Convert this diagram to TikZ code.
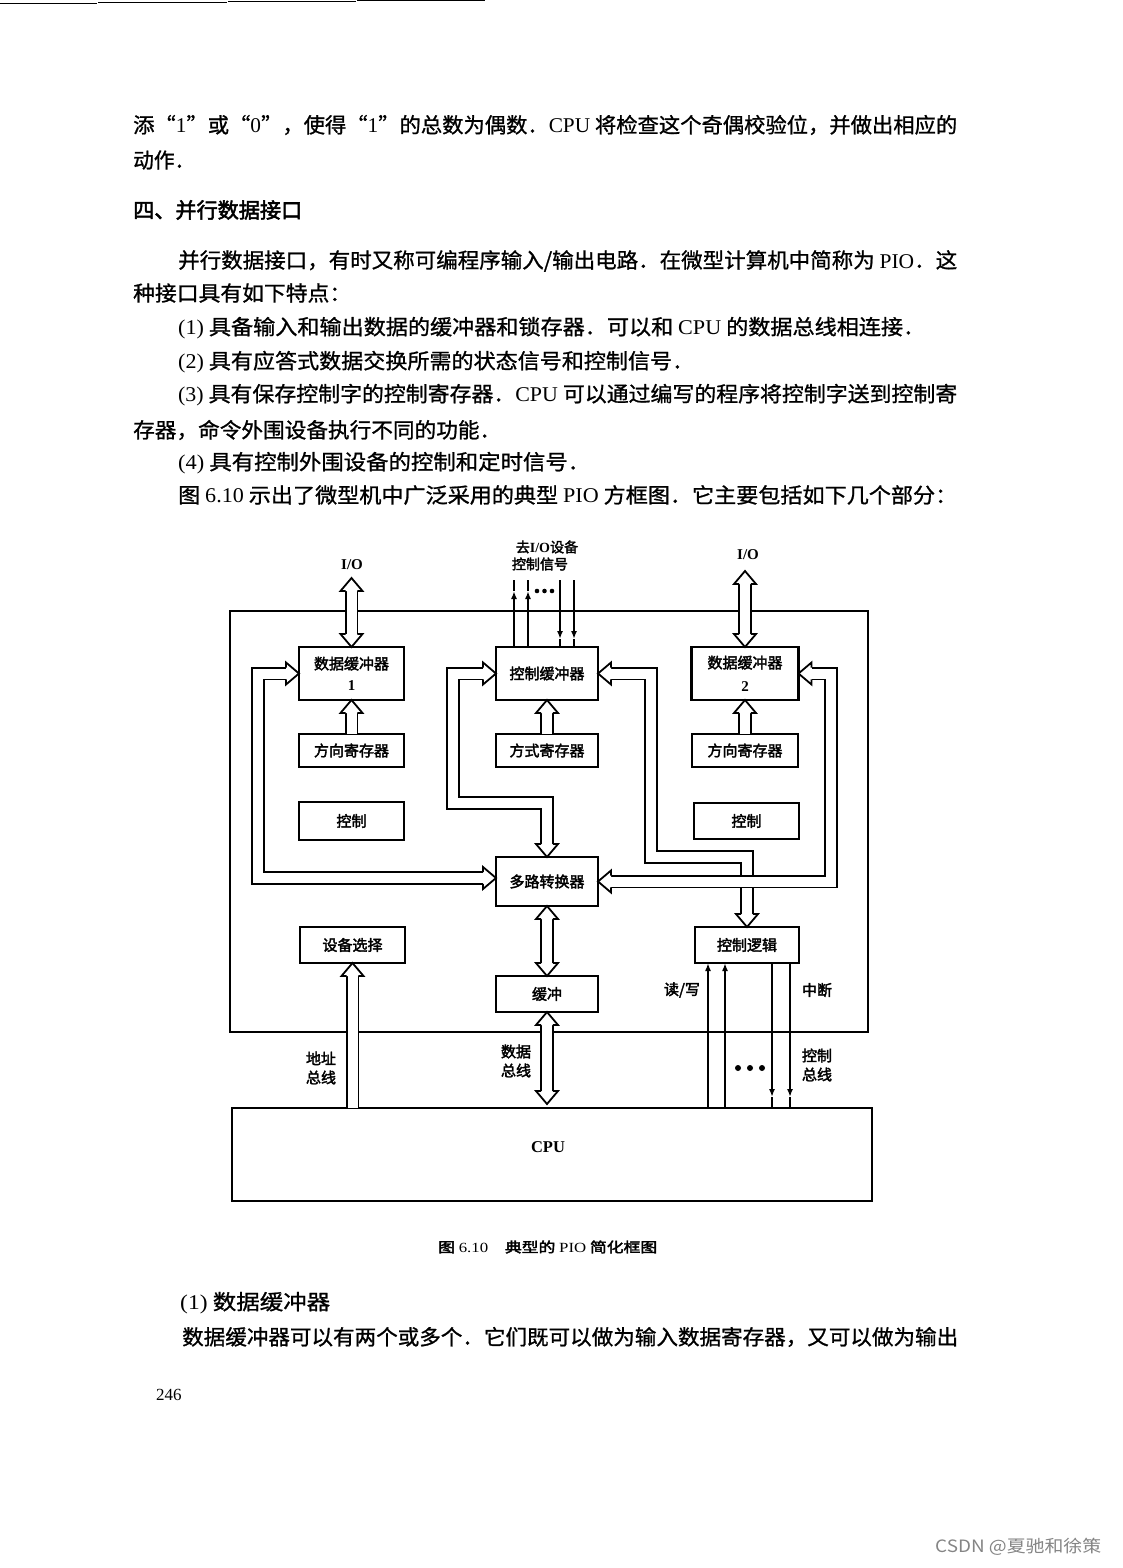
\documentclass[tikz,border=0pt]{standalone}
\usepackage{fontspec}
\usepackage{graphicx}
\usetikzlibrary{arrows.meta}
\newfontfamily\cjk{Noto Sans CJK SC}[FakeBold=1.0]
\newfontfamily\cjkb{Noto Sans CJK SC}[FakeBold=2.4]
\newfontfamily\lat{Liberation Serif}
\newfontfamily\wmfont{Noto Sans CJK SC}
\newcommand\EN[1]{{\lat #1}}
\newcommand\bodyfont{\cjk\fontsize{21pt}{25pt}\selectfont}
\newcommand\headfont{\cjkb\fontsize{21pt}{25pt}\selectfont}
\newcommand\dfont{\cjkb\fontsize{15pt}{19pt}\selectfont}
\newcommand\dfontsm{\cjkb\fontsize{14pt}{17pt}\selectfont}
\newcommand\capfont{\cjkb\fontsize{14pt}{17pt}\selectfont}
\newcommand\bline[4]{\node[anchor=west,inner sep=0pt] (#1) at (#2) {\resizebox{#3pt}{\height}{\bodyfont #4}};}
\newcommand\fhead[2]{\begin{scope}[shift={(#1)},rotate=#2]
 \fill[white] (0,0) -- (-13,11) -- (-13,-11) -- cycle;
 \draw[line width=1.8pt,line join=miter,line cap=butt] (-13,5.9) -- (-13,11) -- (0,0) -- (-13,-11) -- (-13,-5.9);
\end{scope}}
\begin{document}
\begin{tikzpicture}[x=1pt,y=-1pt,
 box/.style={draw,line width=2.2pt,inner sep=0pt,outer sep=0pt,font=\dfont,align=center},
 bus/.style={draw,line width=1.8pt,double=white,double distance=10pt,line join=miter},
 sig/.style={line width=1.8pt},
 lbl/.style={inner sep=0pt,font=\dfont,align=center},
 tip/.style={-{Latex[length=8pt,width=6pt]}}]
\useasboundingbox (0,0) rectangle (1122,1568);
\fill[white] (0,0) rectangle (1122,1568);
% top edge lines of the scan
\draw[line width=1.2pt] (0,3.6) -- (97,3.6);
\draw[line width=1.2pt] (98,2.7) -- (227,2.7);
\draw[line width=1.2pt] (228,1.7) -- (356,1.7);
\draw[line width=1.2pt] (357,0.8) -- (485,0.8);
% body text
\bline{t1}{133,125}{824}{添“\EN{1}”或“\EN{0}”，使得“\EN{1}”的总数为偶数．\EN{CPU} 将检查这个奇偶校验位，并做出相应的}
\bline{t2}{133,160}{62}{动作．}
\node[anchor=west,inner sep=0pt] (h) at (133,210) {\resizebox{169pt}{\height}{\headfont 四、并行数据接口}};
\bline{t3}{178,261}{779}{并行数据接口，有时又称可编程序输入/输出电路．在微型计算机中简称为 \EN{PIO}．这}
\bline{t4}{133,293}{218}{种接口具有如下特点：}
\bline{t5}{178,328}{747}{\EN{(1)} 具备输入和输出数据的缓冲器和锁存器．可以和 \EN{CPU} 的数据总线相连接．}
\bline{t6}{178,362}{516}{\EN{(2)} 具有应答式数据交换所需的状态信号和控制信号．}
\bline{t7}{178,395}{779}{\EN{(3)} 具有保存控制字的控制寄存器．\EN{CPU} 可以通过编写的程序将控制字送到控制寄}
\bline{t8}{133,430}{368}{存器，命令外围设备执行不同的功能．}
\bline{t9}{178,463}{412}{\EN{(4)} 具有控制外围设备的控制和定时信号．}
\bline{t10}{178,495}{779}{图 \EN{6.10} 示出了微型机中广泛采用的典型 \EN{PIO} 方框图．它主要包括如下几个部分：}
\bline{t11}{180,1303}{150}{\EN{(1)} 数据缓冲器}
\bline{t12}{182,1337}{776}{数据缓冲器可以有两个或多个．它们既可以做为输入数据寄存器，又可以做为输出}
\node[anchor=west,inner sep=0pt] (pg) at (156,1395) {\lat\fontsize{17pt}{20pt}\selectfont 246};
\node[anchor=west,inner sep=0pt,text=black!48] (wm) at (935,1547) {\resizebox{166pt}{\height}{\wmfont\fontsize{17pt}{20pt}\selectfont CSDN @夏驰和徐策}};
% diagram frame
\node[draw,line width=1.8pt,inner sep=0pt,outer sep=0pt,minimum width=638pt,minimum height=421pt] (frame) at (549,821.5) {};
% boxes
\node[box,minimum width=105pt,minimum height=53pt] (db1) at (351.5,673.5) {数据缓冲器\\[2pt]\EN{\bfseries 1}};
\node[box,minimum width=102pt,minimum height=53pt] (cb) at (547,673.5) {控制缓冲器};
\node[box,minimum width=107pt,minimum height=53pt] (db2) at (745,673.5) {数据缓冲器\\[4pt]\EN{\bfseries 2}};
\node[box,minimum width=105pt,minimum height=33pt] (dr1) at (351.5,750.5) {方向寄存器};
\node[box,minimum width=102pt,minimum height=33pt] (mr) at (547,750.5) {方式寄存器};
\node[box,minimum width=106pt,minimum height=33pt] (dr2) at (745,750.5) {方向寄存器};
\node[box,minimum width=105pt,minimum height=38pt] (ctl1) at (351.5,821) {控制};
\node[box,minimum width=105pt,minimum height=36pt] (ctl2) at (746.5,821) {控制};
\node[box,minimum width=102pt,minimum height=49pt] (mux) at (547,881.5) {多路转换器};
\node[box,minimum width=105pt,minimum height=36pt] (dev) at (352.5,945) {设备选择};
\node[box,minimum width=104pt,minimum height=36pt] (cl) at (747,945) {控制逻辑};
\node[box,minimum width=102pt,minimum height=36pt] (buf) at (547,994) {缓冲};
\node[box,minimum width=640pt,minimum height=93pt] (cpu) at (552,1154.5) {};
\node[inner sep=0pt] (cputxt) at (548,1147) {\lat\bfseries\fontsize{16.5pt}{19pt}\selectfont CPU};
% coordinates
\coordinate (io1) at (351.5,578);
\coordinate (io2) at (745,571);
\coordinate (dt) at (547,1104);
\coordinate (s1) at (514,580);
\coordinate (s2) at (528,580);
\coordinate (s3) at (560,580);
\coordinate (s4) at (574,580);
\coordinate (c1) at (708,1108);
\coordinate (c2) at (725,1108);
\coordinate (c3) at (772,1108);
\coordinate (c4) at (790,1108);
% I/O buses
\draw[bus,shorten <=13pt,shorten >=13pt] (io1) -- (db1.north);
\fhead{io1}{90} \fhead{db1.north}{-90}
\draw[bus,shorten <=13pt,shorten >=13pt] (io2) -- (db2.north);
\fhead{io2}{90} \fhead{db2.north}{-90}
% register to buffer
\draw[bus,shorten >=13pt] (dr1.north) -- (db1.south); \fhead{db1.south}{90}
\draw[bus,shorten >=13pt] (mr.north) -- (cb.south); \fhead{cb.south}{90}
\draw[bus,shorten >=13pt] (dr2.north) -- (db2.south); \fhead{db2.south}{90}
% loop buses
\draw[bus,shorten <=13pt,shorten >=13pt] (db1.west) -| (258,878) -- (mux.west |- 0,878);
\fhead{db1.west}{0} \fhead{mux.west |- 0,878}{0}
\draw[bus,shorten <=13pt,shorten >=13pt] (cb.west) -| (453,803) -| (mux.north);
\fhead{cb.west}{0} \fhead{mux.north}{-90}
\draw[bus,shorten <=13pt,shorten >=13pt] (cb.east) -| (651,857) -| (cl.north);
\fhead{cb.east}{180} \fhead{cl.north}{-90}
\draw[bus,shorten <=13pt,shorten >=13pt] (db2.east) -| (831,881.5) -- (mux.east);
\fhead{db2.east}{180} \fhead{mux.east}{180}
% data path
\draw[bus,shorten <=13pt,shorten >=13pt] (mux.south) -- (buf.north);
\fhead{mux.south}{90} \fhead{buf.north}{-90}
\draw[bus,shorten <=13pt,shorten >=13pt] (buf.south) -- (dt);
\fhead{buf.south}{90} \fhead{dt}{-90}
% address bus
\draw[bus,shorten >=13pt] (dev.south |- cpu.north) -- (dev.south); \fhead{dev.south}{90}
% control signals to I/O
\draw[sig,tip] (cb.north -| s1) -- (514,591); \draw[sig] (514,591) -- (s1);
\draw[sig,tip] (cb.north -| s2) -- (528,591); \draw[sig] (528,591) -- (s2);
\draw[sig,tip] (s3) -- (560,639); \draw[sig] (560,639) -- (cb.north -| s3);
\draw[sig,tip] (s4) -- (574,639); \draw[sig] (574,639) -- (cb.north -| s4);
\fill (537,591) circle (2.3); \fill (544.5,591) circle (2.3); \fill (552,591) circle (2.3);
% control bus
\draw[sig,tip] (c1) -- (cl.south -| c1);
\draw[sig,tip] (c2) -- (cl.south -| c2);
\draw[sig,tip] (cl.south -| c3) -- (772,1097); \draw[sig] (772,1097) -- (c3);
\draw[sig,tip] (cl.south -| c4) -- (790,1097); \draw[sig] (790,1097) -- (c4);
\fill (738,1068) circle (3); \fill (750,1068) circle (3); \fill (762,1068) circle (3);
% labels
\node[lbl] (io1t) at (352,565) {\EN{\bfseries I/O}};
\node[lbl] (io2t) at (748,555) {\EN{\bfseries I/O}};
\node[lbl,font=\dfontsm] (topt1) at (547,547) {去\EN{\bfseries I/O}设备};
\node[lbl,font=\dfontsm] (topt2) at (540,564) {控制信号};
\node[lbl] (rw) at (682,990) {读/写};
\node[lbl] (intr) at (817,990) {中断};
\node[lbl] (cbus) at (817,1065) {控制\\总线};
\node[lbl] (dbus) at (516,1061) {数据\\总线};
\node[lbl] (abus) at (321,1068) {地址\\总线};
% caption
\node[anchor=west,inner sep=0pt] (cap) at (438,1247) {\resizebox{219pt}{\height}{\capfont 图 \EN{6.10}\quad 典型的 \EN{PIO} 简化框图}};
\end{tikzpicture}
\end{document}
